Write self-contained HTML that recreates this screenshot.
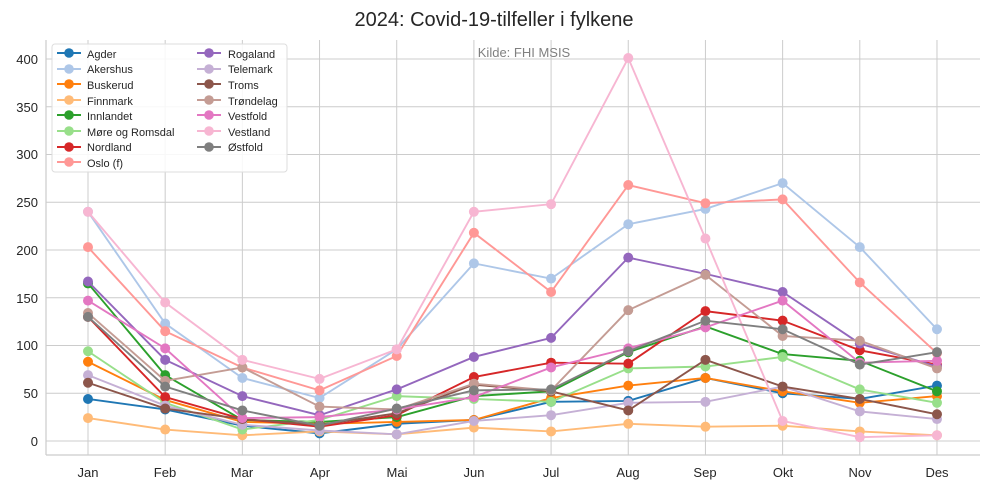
<!DOCTYPE html>
<html><head><meta charset="utf-8"><style>
html,body{margin:0;padding:0;background:#fff;}
svg{display:block;font-family:"Liberation Sans","DejaVu Sans",sans-serif;}
</style></head><body>
<svg id="s" width="989" height="489" viewBox="0 0 989 489" xmlns="http://www.w3.org/2000/svg">
<rect width="989" height="489" fill="#fff"/>
<g id="grid" stroke="#cccccc" stroke-width="1"></g>
<line x1="46" y1="40" x2="46" y2="455" stroke="#cccccc" stroke-width="1.2"/>
<line x1="46" y1="455" x2="980" y2="455" stroke="#cccccc" stroke-width="1.2"/>
<text x="494" y="26" text-anchor="middle" font-size="20" fill="#262626">2024: Covid-19-tilfeller i fylkene</text>
<text x="524" y="57" text-anchor="middle" font-size="13" fill="#808080">Kilde: FHI MSIS</text>
<g font-size="13" fill="#262626" text-anchor="end">
<text x="38" y="446">0</text><text x="38" y="398">50</text><text x="38" y="350">100</text><text x="38" y="303">150</text>
<text x="38" y="255">200</text><text x="38" y="207">250</text><text x="38" y="159">300</text><text x="38" y="112">350</text><text x="38" y="64">400</text>
</g>
<g font-size="13" fill="#262626" text-anchor="middle">
<text x="88" y="477">Jan</text><text x="165" y="477">Feb</text><text x="242" y="477">Mar</text><text x="320" y="477">Apr</text>
<text x="397" y="477">Mai</text><text x="474" y="477">Jun</text><text x="551" y="477">Jul</text><text x="628" y="477">Aug</text>
<text x="705" y="477">Sep</text><text x="783" y="477">Okt</text><text x="860" y="477">Nov</text><text x="937" y="477">Des</text>
</g>
<g id="lines"></g>
<rect x="52" y="44" width="235" height="128" rx="3" fill="#fff" fill-opacity="0.85" stroke="#dddddd"/>
<g id="leg"></g>
<g font-size="11" fill="#262626">
<text x="87" y="58">Agder</text><text x="87" y="73">Akershus</text><text x="87" y="89">Buskerud</text><text x="87" y="105">Finnmark</text>
<text x="87" y="120">Innlandet</text><text x="87" y="136">Møre og Romsdal</text><text x="87" y="151">Nordland</text><text x="87" y="167">Oslo (f)</text>
<text x="228" y="58">Rogaland</text><text x="228" y="73">Telemark</text><text x="228" y="89">Troms</text><text x="228" y="105">Trøndelag</text>
<text x="228" y="120">Vestfold</text><text x="228" y="136">Vestland</text><text x="228" y="151">Østfold</text>
</g>
</svg>
<script>
var NS="http://www.w3.org/2000/svg";
function el(t,a,p){var e=document.createElementNS(NS,t);for(var k in a)e.setAttribute(k,a[k]);p.appendChild(e);return e;}
var g=document.getElementById('grid');
for(var v=0;v<=400;v+=50){var y=441-v*0.955;el('line',{x1:46,x2:980,y1:y,y2:y},g);}
for(var i=0;i<12;i++){var x=88+i*77.18;el('line',{x1:x,x2:x,y1:40,y2:455},g);}
var S=[
["#1f77b4",[44,33,16,8,18,22,41,42,66,50,44,58]],
["#aec7e8",[240,123,66,45,96,186,170,227,243,270,203,117]],
["#ff7f0e",[83,43,20,18,20,22,45,58,66,52,40,47]],
["#ffbb78",[24,12,6,10,7,14,10,18,15,16,10,6]],
["#2ca02c",[165,69,22,20,25,47,52,93,120,91,84,52]],
["#98df8a",[94,40,12,22,47,44,41,76,78,88,54,40]],
["#d62728",[130,46,23,15,27,67,82,81,136,126,95,80]],
["#ff9896",[203,115,77,53,89,218,156,268,249,253,166,92]],
["#9467bd",[167,85,47,27,54,88,108,192,175,156,102,78]],
["#c5b0d5",[69,37,17,11,7,21,27,40,41,57,31,23]],
["#8c564b",[61,34,23,17,29,59,52,32,85,57,44,28]],
["#c49c94",[134,63,77,36,33,60,53,137,174,110,105,76]],
["#e377c2",[147,97,24,25,33,46,77,97,119,147,82,84]],
["#f7b6d2",[240,145,85,65,96,240,248,401,212,21,4,6]],
["#7f7f7f",[130,57,32,16,34,53,54,94,126,117,80,93]]];
var L=document.getElementById('lines');
S.forEach(function(s){var pts=s[1].map(function(v,i){return (88+i*77.18)+","+(441-v*0.955);});
el('polyline',{points:pts.join(" "),fill:"none",stroke:s[0],"stroke-width":1.9},L);
s[1].forEach(function(v,i){el('circle',{cx:88+i*77.18,cy:441-v*0.955,r:5,fill:s[0]},L);});});
var G=document.getElementById('leg');
var ys=[53,69,84,100,115,131,147,162];
S.forEach(function(s,i){var col=i<8?0:1;var y=ys[col?i-8:i];var x0=col?197:57;
el('line',{x1:x0,x2:x0+24,y1:y,y2:y,stroke:s[0],"stroke-width":1.9},G);
el('circle',{cx:x0+12,cy:y,r:4.8,fill:s[0]},G);});
</script>
</body></html>
